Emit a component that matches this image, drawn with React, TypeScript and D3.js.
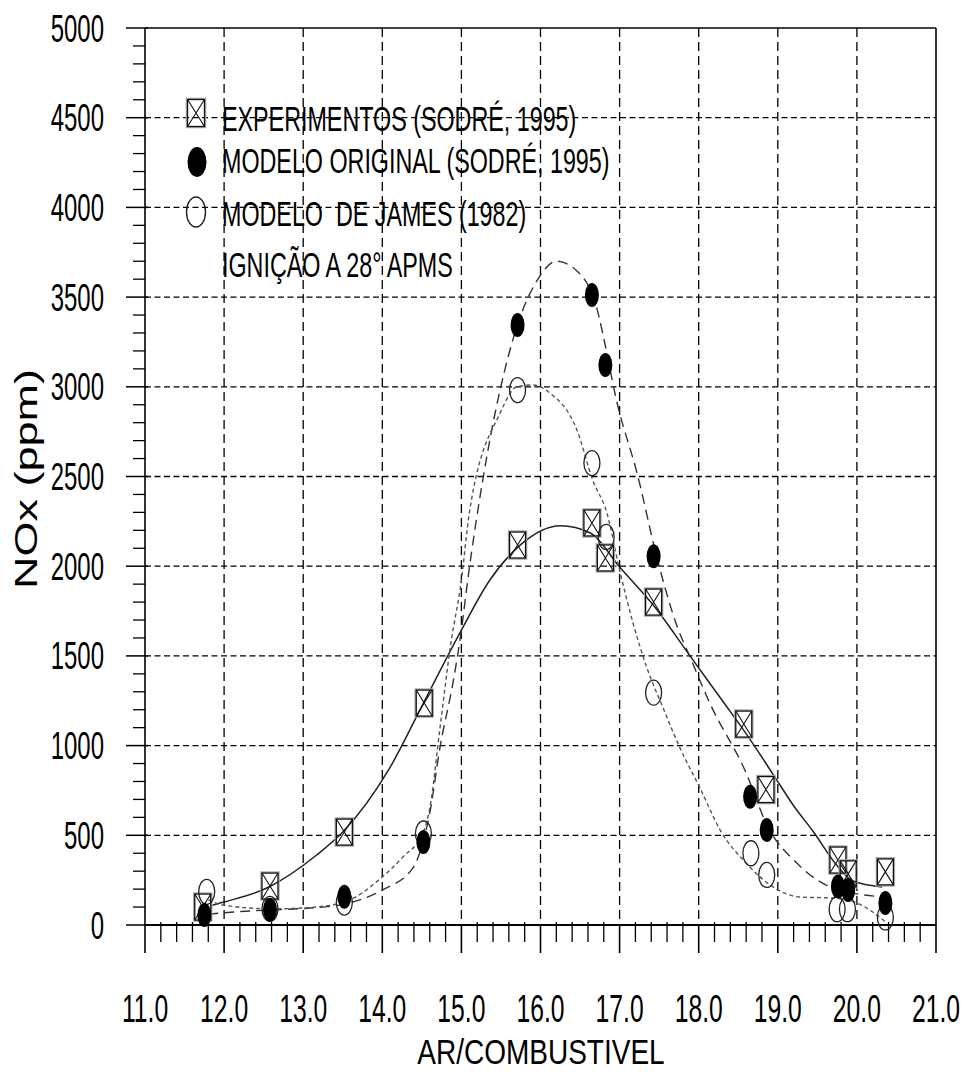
import React from 'react';
import * as d3 from 'd3';

// measured points (air/fuel ratio, NOx ppm)
const expX = [11.73, 12.58, 13.52, 14.53, 15.71, 16.65, 16.82, 17.43, 18.57, 18.85, 19.76, 19.89, 20.36];
const expY = [100, 217, 518, 1237, 2118, 2241, 2046, 1800, 1120, 755, 362, 285, 296];

const origX = [11.75, 12.58, 13.52, 14.52, 15.71, 16.65, 16.82, 17.43, 18.65, 18.86, 19.76, 19.89, 20.36];
const origY = [56, 85, 157, 463, 3345, 3512, 3122, 2055, 715, 530, 215, 195, 123];

const jamesX = [11.78, 12.58, 13.52, 14.52, 15.71, 16.65, 16.83, 17.43, 18.66, 18.86, 19.75, 19.88, 20.36];
const jamesY = [185, 90, 125, 510, 2982, 2575, 2163, 1295, 400, 279, 88, 88, 42];

// fitted curves
const solidX = [11.85, 12.0, 12.54, 13.17, 13.5, 14.1, 14.52, 15.0, 15.36, 15.75, 16.25, 16.63, 17.0, 17.45, 17.89, 18.3, 18.61, 18.94, 19.2, 19.45, 19.75, 19.95, 20.32];
const solidY = [110, 128, 206, 390, 518, 880, 1237, 1644, 1923, 2120, 2225, 2185, 1996, 1770, 1500, 1250, 1060, 840, 665, 520, 330, 245, 212];

const longX = [11.8, 12.2, 12.6, 13.0, 13.5, 14.0, 14.39, 14.52, 14.6, 14.73, 14.9, 15.0, 15.08, 15.27, 15.7, 15.96, 16.2, 16.45, 16.66, 17.0, 17.22, 17.47, 17.73, 17.89, 18.14, 18.6, 18.86, 19.24, 19.66, 19.95, 20.33];
const longY = [60, 75, 84, 92, 115, 195, 320, 470, 624, 992, 1366, 1644, 1923, 2480, 3333, 3595, 3700, 3650, 3511, 2854, 2520, 2051, 1661, 1494, 1237, 847, 560, 345, 212, 178, 156];

const shortX = [11.8, 12.0, 12.6, 13.0, 13.5, 14.0, 14.26, 14.52, 14.6, 14.73, 14.86, 15.0, 15.1, 15.49, 15.7, 15.9, 16.12, 16.46, 16.66, 16.84, 17.0, 17.17, 17.34, 17.55, 17.76, 18.02, 18.27, 18.6, 18.94, 19.28, 19.7, 20.0, 20.38];
const shortY = [140, 110, 90, 95, 125, 268, 379, 520, 650, 1100, 1550, 1923, 2296, 2854, 3000, 3010, 2965, 2760, 2480, 2296, 1979, 1683, 1440, 1210, 990, 760, 530, 345, 212, 156, 150, 123, 11];

const xTicks = ['11.0', '12.0', '13.0', '14.0', '15.0', '16.0', '17.0', '18.0', '19.0', '20.0', '21.0'];
const yTicks = ['0', '500', '1000', '1500', '2000', '2500', '3000', '3500', '4000', '4500', '5000'];

const legendLabels = [
  'EXPERIMENTOS (SODRÉ, 1995)',
  'MODELO ORIGINAL (SODRÉ, 1995)',
  'MODELO  DE JAMES (1982)',
  'IGNIÇÃO A 28° APMS',
];

const FONT = '"Liberation Sans", Arial, sans-serif';

function SquareX({ cx, cy, w = 16, h = 26 }: { cx: number; cy: number; w?: number; h?: number }) {
  return (
    <g>
      <rect x={cx - w / 2 - 1} y={cy - h / 2 - 1} width={w + 2} height={h + 2} fill="none" stroke="#aaa" strokeWidth={1.5} />
      <rect x={cx - w / 2} y={cy - h / 2} width={w} height={h} fill="none" stroke="#111" strokeWidth={1.3} />
      <path d={`M${cx - w / 2},${cy - h / 2}L${cx + w / 2},${cy + h / 2}M${cx + w / 2},${cy - h / 2}L${cx - w / 2},${cy + h / 2}`} stroke="#111" strokeWidth={1.1} />
    </g>
  );
}

export default function App() {
  const width = 966;
  const height = 1072;
  const left = 145, right = 936, top = 28, bottom = 925;

  const x = d3.scaleLinear().domain([11, 21]).range([left, right]);
  const y = d3.scaleLinear().domain([0, 5000]).range([bottom, top]);

  const line = d3.line<[number, number]>()
    .x(d => x(d[0]))
    .y(d => y(d[1]))
    .curve(d3.curveMonotoneX);

  const zip = (a: number[], b: number[]) => a.map((v, i) => [v, b[i]] as [number, number]);

  const xMajor = d3.range(11, 21.001, 1);
  const xMinor = d3.range(11, 21.001, 0.2).filter(v => Math.abs(v - Math.round(v)) > 0.01);
  const yMajor = d3.range(0, 5001, 500);
  const yMinor = d3.range(0, 5001, 100).filter(v => v % 500 !== 0);

  const sx = 0.65;

  return (
    <svg width={width} height={height} style={{ position: 'absolute', left: 0, top: 0, background: '#fff', display: 'block' }}>
      <rect width={width} height={height} fill="#fff" />

      {/* grid */}
      {xMajor.filter(v => v > 11 && v < 21).map((v, i) => (
        <line key={'gx' + i} x1={x(v)} x2={x(v)} y1={top} y2={bottom} stroke="#000" strokeWidth={1.3} strokeDasharray="9,5" />
      ))}
      {yMajor.filter(v => v > 0 && v < 5000).map((v, i) => (
        <line key={'gy' + i} x1={left} x2={right} y1={y(v)} y2={y(v)} stroke="#000" strokeWidth={1.3} strokeDasharray="6,3.5" />
      ))}

      {/* frame */}
      <line x1={left} x2={right} y1={top} y2={top} stroke="#000" strokeWidth={1.6} />
      <line x1={right} x2={right} y1={top} y2={bottom} stroke="#000" strokeWidth={1.6} />
      <line x1={left} x2={left} y1={top} y2={bottom} stroke="#000" strokeWidth={1.6} />
      <line x1={left} x2={right} y1={bottom} y2={bottom} stroke="#000" strokeWidth={2.2} />

      {/* y ticks */}
      {yMajor.map((v, i) => (
        <line key={'ym' + i} x1={126} x2={148} y1={y(v)} y2={y(v)} stroke="#000" strokeWidth={1.5} />
      ))}
      {yMinor.map((v, i) => (
        <line key={'yn' + i} x1={133} x2={left} y1={y(v)} y2={y(v)} stroke="#000" strokeWidth={1.3} />
      ))}
      {/* x ticks */}
      {xMajor.map((v, i) => (
        <line key={'xm' + i} x1={x(v)} x2={x(v)} y1={bottom} y2={953} stroke="#000" strokeWidth={1.6} />
      ))}
      {xMinor.map((v, i) => (
        <line key={'xn' + i} x1={x(v)} x2={x(v)} y1={bottom - 3} y2={942} stroke="#000" strokeWidth={1.3} />
      ))}

      {/* tick labels */}
      {yTicks.map((t, i) => (
        <text key={'yl' + i} transform={`translate(104,${y(+t) + 13.5}) scale(0.63,1)`} textAnchor="end"
          fontFamily={FONT} fontSize={38} fill="#000">{t}</text>
      ))}
      {xTicks.map((t, i) => (
        <text key={'xl' + i} transform={`translate(${x(+t)},1022) scale(${sx},1)`} textAnchor="middle"
          fontFamily={FONT} fontSize={38} fill="#000">{t}</text>
      ))}

      {/* axis titles */}
      <text transform="translate(541,1064) scale(0.8,1)" textAnchor="middle" fontFamily={FONT} fontSize={35} fill="#000">AR/COMBUSTIVEL</text>
      <text transform="translate(37,479) scale(0.7,1) rotate(-90)" textAnchor="middle" fontFamily={FONT} fontSize={45} fill="#000">NOx (ppm)</text>

      {/* fitted curves */}
      <path d={line(zip(solidX, solidY)) || ''} fill="none" stroke="#222" strokeWidth={1.5} />
      <path d={line(zip(longX, longY)) || ''} fill="none" stroke="#333" strokeWidth={1.4} strokeDasharray="10,6" />
      <path d={line(zip(shortX, shortY)) || ''} fill="none" stroke="#555" strokeWidth={1.4} strokeDasharray="4,3" />

      {/* points */}
      {expX.map((v, i) => <SquareX key={'e' + i} cx={x(v)} cy={y(expY[i])} />)}
      {jamesX.map((v, i) => (
        <ellipse key={'j' + i} cx={x(v)} cy={y(jamesY[i])} rx={8} ry={12.5} fill="none" stroke="#222" strokeWidth={1.3} />
      ))}
      {origX.map((v, i) => (
        <ellipse key={'o' + i} cx={x(v)} cy={y(origY[i])} rx={7} ry={12} fill="#000" />
      ))}

      {/* legend */}
      <SquareX cx={196} cy={113} w={17} h={27} />
      <ellipse cx={197} cy={162} rx={9.5} ry={15} fill="#000" />
      <ellipse cx={196} cy={212} rx={9.5} ry={15} fill="none" stroke="#222" strokeWidth={1.4} />
      {legendLabels.map((t, i) => (
        <text key={'lg' + i} transform={`translate(222,${[131, 173, 226, 277][i]}) scale(0.666,1)`}
          fontFamily={FONT} fontSize={35} fill="#000" style={{ whiteSpace: 'pre' }}>{t}</text>
      ))}
    </svg>
  );
}
